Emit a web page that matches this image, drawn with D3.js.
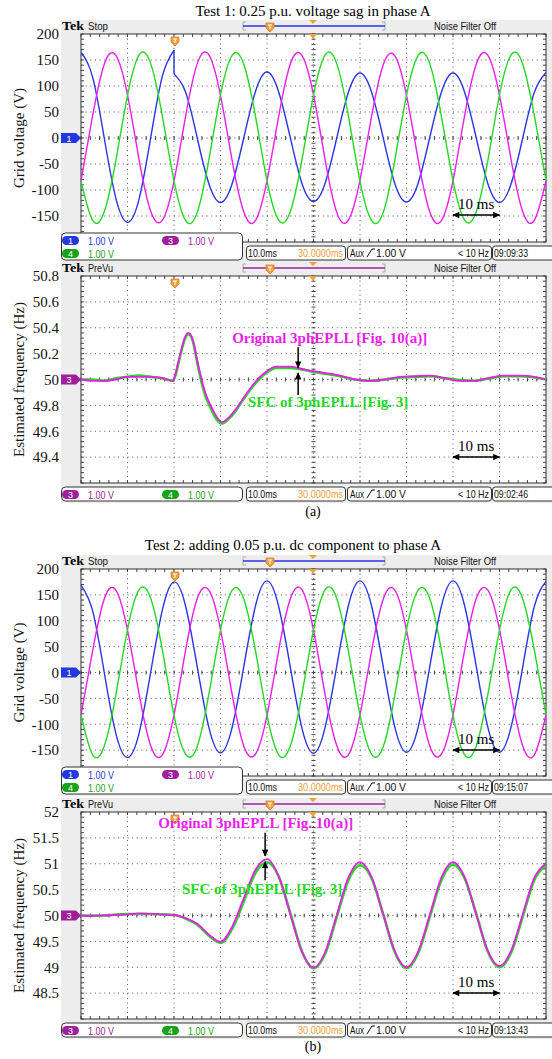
<!DOCTYPE html>
<html>
<head>
<meta charset="utf-8">
<script src="https://cdn.jsdelivr.net/npm/d3@7"></script>
<style>
  body { margin: 0; background: #fff; }
  svg { display: block; }
</style>
</head>
<body>
<div id="fig"></div>
<script>
// sample times, ms from the left edge of the screen (10 ms/div, 10 div)
var tV = [0,2.5,5,7.5,10,12.5,15,17.5,20,22.5,25,27.5,30,32.5,35,37.5,40,42.5,45,47.5,50,
          52.5,55,57.5,60,62.5,65,67.5,70,72.5,75,77.5,80,82.5,85,87.5,90,92.5,95,97.5,100];

// Test 1 - grid voltages (V)
var vA1pre  = [165,117,0,-116,-162,-117,1,119,169];            // phase A, t = 0..20
var vA1post = [123,88,0,-88,-124,-88,0,89,127,89,1,-87,-122,-87,0,88,
               125,88,0,-88,-123,-87,1,88,125,88,0,-88,-124,-88,0,88,126]; // t = 20..100
var vB1 = [-82,43,142,159,83,-42,-141,-158, -83,42,143,160,82,-43,-142,-159,
           -82,41,142,159,83,-42,-143,-158, -81,42,141,158,82,-41,-142,-159,
           -82,43,142,159,82,-42,-142,-158, -82];
var vC1 = [-83,-158,-142,-43,82,160,143,42, -82,-159,-143,-42,83,159,142,43,
           -82,-158,-142,-43,82,160,143,43, -83,-159,-143,-42,82,159,143,42,
           -82,-158,-142,-43,83,160,142,43, -82];

// Test 1 - estimated frequency (Hz)
var tFa = [0,2.5,5,7.5,10,12.5,15,17.5,19.8,20.2,21.3,22.4,23.1,24.1,24.9,25.6,26.7,28,29.2,30.3,
           31.6,33.1,34.8,36.8,38.5,40.2,41.9,44.9,47.1,49.9,52.5,55.7,58.9,62.2,65.4,68.6,71.8,
           75.1,78.3,81.5,84.7,88,91.2,94.4,97.6,100];
var fOrigA = [50.00,49.99,49.99,50.00,50.02,50.02,50.02,50.01,49.99,50.03,50.19,50.33,50.36,50.30,
              50.16,50.05,49.90,49.79,49.71,49.67,49.70,49.76,49.85,49.95,50.02,50.07,50.10,50.10,
              50.085,50.065,50.05,50.03,50.00,49.99,50.00,50.02,50.025,50.03,50.01,49.99,49.99,
              50.015,50.03,50.03,50.02,50.00];
var fSfcA  = [50.00,50.00,49.99,50.01,50.02,50.03,50.02,50.01,49.99,50.02,50.18,50.32,50.35,50.29,
              50.15,50.03,49.88,49.77,49.69,49.66,49.69,49.75,49.84,49.94,50.01,50.06,50.09,50.09,
              50.08,50.06,50.045,50.025,50.00,49.99,50.00,50.015,50.02,50.025,50.01,49.995,49.99,
              50.01,50.025,50.025,50.015,50.00];

// Test 2 - grid voltages (V)
var vA2 = [169,119,0,-118,-164,-117,1,121, 175,128,11,-106,-155,-106,11,128,
           177,128,11,-107,-156,-106,12,129, 177,128,11,-106,-154,-106,11,128,
           177,129,12,-106,-154,-105,11,128, 176];
var vB2 = [-82,42,142,159,82,-42,-142,-159, -82,43,143,159,83,-42,-142,-158,
           -83,42,142,160,82,-43,-141,-159, -82,42,142,159,82,-42,-142,-158,
           -82,43,143,159,83,-42,-142,-159, -82];
var vC2 = [-82,-159,-142,-43,83,160,143,43, -83,-158,-143,-42,82,159,142,43,
           -82,-159,-142,-43,82,160,143,42, -82,-158,-143,-43,83,159,143,43,
           -83,-159,-142,-42,82,160,142,43, -82];

// Test 2 - estimated frequency (Hz)
var fOrigB = [50.00,49.99,50.00,50.01,50.02,50.04,50.03,50.02,50.01,49.95,49.84,49.63,49.49,49.78,
              50.33,50.88,51.09,50.76,50.03,49.30,48.99,49.29,50.01,50.73,51.03,50.74,50.02,49.30,
              49.00,49.30,50.01,50.73,51.03,50.74,50.02,49.31,49.02,49.32,50.02,50.73,51.00];
var fSfcB  = [50.00,50.00,50.00,50.02,50.03,50.03,50.03,50.02,50.01,49.94,49.82,49.61,49.47,49.74,
              50.27,50.82,51.03,50.76,50.05,49.31,48.98,49.26,49.97,50.68,50.97,50.72,50.02,49.29,
              48.98,49.27,49.97,50.68,50.98,50.72,50.03,49.30,49.00,49.28,49.98,50.69,50.97];

// tick labels
var voltTicks  = [200,150,100,50,0,-50,-100,-150];
var freqTicksA = [50.8,50.6,50.4,50.2,50,49.8,49.6,49.4];
var freqTicksB = [52,51.5,51,50.5,50,49.5,49,48.5];

var serif = "'Liberation Serif','Times New Roman',Times,serif";
var sans = "'Liberation Sans',Arial,Helvetica,sans-serif";
var cBlue = "#2a36e0", cMag = "#ea1eea", cGreen = "#24d824";
var pBlue = "#2438e0", pPurple = "#a0209c", pGreen = "#17a317";
var orange = "#f2a03c";

var svg = d3.select("#fig").append("svg").attr("width", 552).attr("height", 1059);
var defs = svg.append("defs");
defs.append("marker").attr("id", "ah").attr("viewBox", "0 0 10 10")
    .attr("refX", 9).attr("refY", 5).attr("markerWidth", 8).attr("markerHeight", 7)
    .attr("markerUnits", "userSpaceOnUse").attr("orient", "auto-start-reverse")
  .append("path").attr("d", "M0,0.5 L10,5 L0,9.5 z").attr("fill", "#000");

var x = d3.scaleLinear().domain([0, 100]).range([81, 546]);

function stext(g, xx, yy, s, len, color, size) {
  return g.append("text").attr("x", xx).attr("y", yy).attr("font-family", sans)
    .attr("font-size", size || 10.5).attr("fill", color || "#111")
    .attr("textLength", len).attr("lengthAdjust", "spacingAndGlyphs").text(s);
}

function shield(g, cx, cy) {
  g.append("path").attr("d", "M" + (cx - 4) + "," + (cy - 5) + " h8 v5 l-4,4 l-4,-4 z")
    .attr("fill", orange).attr("stroke", "#d0802a").attr("stroke-width", 0.8);
  g.append("path").attr("d", "M" + (cx - 2) + "," + (cy - 3) + " h4 M" + cx + "," + (cy - 3) + " v4")
    .attr("stroke", "#fff").attr("stroke-width", 1);
}

function pill(g, x0, cy, label, fill) {
  g.append("rect").attr("x", x0).attr("y", cy - 4.5).attr("width", 17).attr("height", 9)
    .attr("rx", 4.5).attr("fill", fill);
  g.append("text").attr("x", x0 + 8.5).attr("y", cy + 3.5).attr("text-anchor", "middle")
    .attr("font-family", sans).attr("font-size", 9).attr("fill", "#fff").text(label);
}

function drawScope(p) {
  var pt = p.top, pb = p.bottom;
  var y = d3.scaleLinear().domain(p.domain).range([pb, pt]);
  var g = svg.append("g");

  // screen, header strip
  g.append("rect").attr("x", 61).attr("y", pt - 14).attr("width", 491).attr("height", pb - pt + 34)
    .attr("fill", "#ededed");
  g.append("text").attr("x", 62).attr("y", pt - 4).attr("font-family", serif).attr("font-weight", "bold")
    .attr("font-size", 13).attr("textLength", 22).attr("lengthAdjust", "spacingAndGlyphs").text("Tek");
  stext(g, 88, pt - 4, p.mode, p.mode === "Stop" ? 20 : 25, "#111", 10);
  stext(g, 434, pt - 4, "Noise Filter Off", 62, "#111", 10);
  g.append("path").attr("d", "M246," + (pt - 12) + " H243 V" + (pt - 4) + " H246 M382," + (pt - 12) +
      " H385 V" + (pt - 4) + " H382").attr("fill", "none").attr("stroke", "#aaa");
  g.append("line").attr("x1", 243).attr("x2", 385).attr("y1", pt - 8).attr("y2", pt - 8)
    .attr("stroke", p.bar).attr("stroke-width", 1.5);
  shield(g, 270, pt - 6);
  g.append("path").attr("d", "M309," + (pt - 14) + " h8 l-4,4 z").attr("fill", orange);

  // plot area
  g.append("rect").attr("x", 81).attr("y", pt).attr("width", 465).attr("height", pb - pt).attr("fill", "#fff");
  var ySt = (p.domain[1] - p.domain[0]) / 8;
  var grid = g.append("g").attr("stroke", "#555").attr("stroke-width", 1).attr("stroke-dasharray", "1,3.65");
  d3.range(10, 100, 10).forEach(function (t) {
    grid.append("line").attr("x1", x(t)).attr("x2", x(t)).attr("y1", pt).attr("y2", pb);
  });
  d3.range(1, 8).forEach(function (i) {
    var yy = y(p.domain[0] + i * ySt);
    grid.append("line").attr("x1", 81).attr("x2", 546).attr("y1", yy).attr("y2", yy);
  });
  var tk = g.append("g").attr("stroke", "#444").attr("stroke-width", 1);
  var xc = x(50), yc = y(p.domain[0] + 4 * ySt);
  d3.range(0, 100.01, 2).forEach(function (t) {
    var xx = x(t);
    tk.append("line").attr("x1", xx).attr("x2", xx).attr("y1", pt).attr("y2", pt + 3);
    tk.append("line").attr("x1", xx).attr("x2", xx).attr("y1", pb - 3).attr("y2", pb);
    tk.append("line").attr("x1", xx).attr("x2", xx).attr("y1", yc - 2).attr("y2", yc + 2);
  });
  d3.range(41).forEach(function (i) {
    var yy = pt + i * (pb - pt) / 40;
    tk.append("line").attr("x1", 81).attr("x2", 84).attr("y1", yy).attr("y2", yy);
    tk.append("line").attr("x1", 543).attr("x2", 546).attr("y1", yy).attr("y2", yy);
    tk.append("line").attr("x1", xc - 2).attr("x2", xc + 2).attr("y1", yy).attr("y2", yy);
  });
  g.append("rect").attr("x", 81).attr("y", pt).attr("width", 465).attr("height", pb - pt)
    .attr("fill", "none").attr("stroke", "#333");
  g.append("path").attr("d", "M309," + pt + " h8 l-4,5 z").attr("fill", orange);
  shield(g, 175, pt + 8);

  // y axis
  var ax = g.append("g").attr("transform", "translate(59,0)")
    .call(d3.axisLeft(y).tickValues(p.ticks).tickSize(0).tickPadding(0)
      .tickFormat(function (d) { return String(d); }));
  ax.select(".domain").remove();
  ax.selectAll("text").attr("font-family", serif).attr("font-size", 15).attr("fill", "#111");
  g.append("text").attr("transform", "translate(19," + ((pt + pb) / 2) + ") rotate(-90)")
    .attr("text-anchor", "middle").attr("dy", "0.35em").attr("font-family", serif)
    .attr("font-size", 15).attr("fill", "#111").text(p.label);

  // traces
  var cid = "clip" + p.top;
  defs.append("clipPath").attr("id", cid).append("rect")
    .attr("x", 81).attr("y", pt).attr("width", 465).attr("height", pb - pt);
  var lg = g.append("g").attr("clip-path", "url(#" + cid + ")");
  p.series.forEach(function (s) {
    var line = d3.line().x(function (d) { return x(d[0]); }).y(function (d) { return y(d[1]); })
      .curve(s.curve || p.curve);
    lg.append("path").attr("d", line(d3.zip(s.t, s.v))).attr("fill", "none")
      .attr("stroke", s.color).attr("stroke-width", s.width).attr("stroke-linejoin", "round");
  });

  // 10 ms scale arrow
  g.append("line").attr("x1", x(80)).attr("x2", x(90)).attr("y1", pt + 181).attr("y2", pt + 181)
    .attr("stroke", "#000").attr("stroke-width", 1.5)
    .attr("marker-start", "url(#ah)").attr("marker-end", "url(#ah)");
  g.append("text").attr("x", x(85)).attr("y", pt + 175).attr("text-anchor", "middle")
    .attr("font-family", serif).attr("font-size", 15).attr("fill", "#000").text("10 ms");

  // annotations
  (p.notes || []).forEach(function (n) {
    g.append("text").attr("x", x(n.t)).attr("y", y(n.v)).attr("font-family", serif)
      .attr("font-weight", "bold").attr("font-size", 15).attr("fill", n.color).text(n.text);
  });
  (p.arrows || []).forEach(function (a) {
    g.append("line").attr("x1", x(a.t)).attr("x2", x(a.t)).attr("y1", y(a.from)).attr("y2", y(a.to))
      .attr("stroke", "#000").attr("stroke-width", 1.5).attr("marker-end", "url(#ah)");
  });

  // ground marker
  var gy = y(p.ground.v);
  g.append("path").attr("d", "M61," + (gy - 5) + " H76 L81," + gy + " L76," + (gy + 5) + " H61 z")
    .attr("fill", p.ground.fill);
  g.append("text").attr("x", 69).attr("y", gy + 3.5).attr("text-anchor", "middle")
    .attr("font-family", sans).attr("font-size", 9).attr("fill", "#fff").text(p.ground.label);

  // channel readout box
  var rows = p.legend, bt = pb + 4 - (rows.length - 1) * 13;
  g.append("rect").attr("x", 61.5).attr("y", bt).attr("width", 181).attr("height", pb + 18 - bt)
    .attr("rx", 4).attr("fill", "#fff").attr("stroke", "#333");
  rows.forEach(function (row, i) {
    var cy = bt + 7.5 + i * 13;
    row.forEach(function (c, j) {
      pill(g, 62 + j * 100, cy, c.n, c.fill);
      stext(g, 88 + j * 100, cy + 4, "1.00 V", 26, c.tc, 10.5);
    });
  });

  // timebase / trigger readout
  var sy = pb + 4;
  [[246, 345], [347, 491], [492, 556]].forEach(function (b) {
    g.append("rect").attr("x", b[0] + 0.5).attr("y", sy).attr("width", b[1] - b[0]).attr("height", 14)
      .attr("rx", 3).attr("fill", "#fff").attr("stroke", "#333");
  });
  stext(g, 248, sy + 11, "10.0ms", 29, "#111");
  stext(g, 298, sy + 11, "30.0000ms", 45, orange);
  stext(g, 350, sy + 11, "Aux", 14, "#111");
  g.append("path").attr("d", "M367," + (sy + 11) + " L372," + (sy + 3) + " H375")
    .attr("fill", "none").attr("stroke", "#111").attr("stroke-width", 1);
  stext(g, 376, sy + 11, "1.00 V", 30, "#111");
  stext(g, 458, sy + 11, "< 10 Hz", 31, "#111");
  stext(g, 494, sy + 11, p.clock, 34, "#111");
  return y;
}

// titles and captions
svg.append("text").attr("x", 313).attr("y", 16).attr("text-anchor", "middle").attr("font-family", serif)
  .attr("font-size", 15).text("Test 1: 0.25 p.u. voltage sag in phase A");
svg.append("text").attr("x", 293).attr("y", 550).attr("text-anchor", "middle").attr("font-family", serif)
  .attr("font-size", 15).text("Test 2: adding 0.05 p.u. dc component to phase A");
svg.append("text").attr("x", 313).attr("y", 516).attr("text-anchor", "middle").attr("font-family", serif)
  .attr("font-size", 14).text("(a)");
svg.append("text").attr("x", 313).attr("y", 1051).attr("text-anchor", "middle").attr("font-family", serif)
  .attr("font-size", 14).text("(b)");

var voltLegend = [[{n: "1", fill: pBlue, tc: cBlue}, {n: "3", fill: pPurple, tc: pPurple}],
                  [{n: "4", fill: pGreen, tc: pGreen}]];
var freqLegend = [[{n: "3", fill: pPurple, tc: pPurple}, {n: "4", fill: pGreen, tc: pGreen}]];

// (a) voltages
drawScope({
  top: 34, bottom: 242, domain: [-200, 200], ticks: voltTicks, label: "Grid voltage (V)",
  mode: "Stop", bar: cBlue, curve: d3.curveNatural, clock: "09:09:33",
  ground: {v: 0, label: "1", fill: pBlue}, legend: voltLegend,
  series: [
    {t: tV.slice(0, 9), v: vA1pre, color: cBlue, width: 1.4},
    {t: [20, 20], v: [vA1pre[8], vA1post[0]], color: cBlue, width: 1.4, curve: d3.curveLinear},
    {t: tV.slice(8), v: vA1post, color: cBlue, width: 1.4},
    {t: tV, v: vB1, color: cMag, width: 1.4},
    {t: tV, v: vC1, color: cGreen, width: 1.4}
  ]
});

// (a) frequency
drawScope({
  top: 276, bottom: 483, domain: [49.2, 50.8], ticks: freqTicksA, label: "Estimated frequency (Hz)",
  mode: "PreVu", bar: pPurple, curve: d3.curveMonotoneX, clock: "09:02:46",
  ground: {v: 50, label: "3", fill: pPurple}, legend: freqLegend,
  series: [
    {t: tFa, v: fSfcA, color: cGreen, width: 2.6},
    {t: tFa, v: fOrigA, color: cMag, width: 1.8}
  ],
  notes: [
    {text: "Original 3phEPLL [Fig. 10(a)]", t: 32.5, v: 50.28, color: cMag},
    {text: "SFC of 3phEPLL [Fig. 3]", t: 35.9, v: 49.79, color: cGreen}
  ],
  arrows: [{t: 46.7, from: 50.25, to: 50.09}, {t: 46.7, from: 49.88, to: 50.05}]
});

// (b) voltages
drawScope({
  top: 569, bottom: 776, domain: [-200, 200], ticks: voltTicks, label: "Grid voltage (V)",
  mode: "Stop", bar: cBlue, curve: d3.curveNatural, clock: "09:15:07",
  ground: {v: 0, label: "1", fill: pBlue}, legend: voltLegend,
  series: [
    {t: tV, v: vA2, color: cBlue, width: 1.4},
    {t: tV, v: vB2, color: cMag, width: 1.4},
    {t: tV, v: vC2, color: cGreen, width: 1.4}
  ]
});

// (b) frequency
drawScope({
  top: 812, bottom: 1019, domain: [48, 52], ticks: freqTicksB, label: "Estimated frequency (Hz)",
  mode: "PreVu", bar: pPurple, curve: d3.curveMonotoneX, clock: "09:13:43",
  ground: {v: 50, label: "3", fill: pPurple}, legend: freqLegend,
  series: [
    {t: tV, v: fSfcB, color: cGreen, width: 2.6},
    {t: tV, v: fOrigB, color: cMag, width: 1.8}
  ],
  notes: [
    {text: "Original 3phEPLL [Fig. 10(a)]", t: 16.6, v: 51.69, color: cMag},
    {text: "SFC of 3phEPLL [Fig. 3]", t: 21.7, v: 50.42, color: cGreen}
  ],
  arrows: [{t: 39.6, from: 51.6, to: 51.15}, {t: 39.6, from: 50.68, to: 51.04}]
});
</script>
</body>
</html>
